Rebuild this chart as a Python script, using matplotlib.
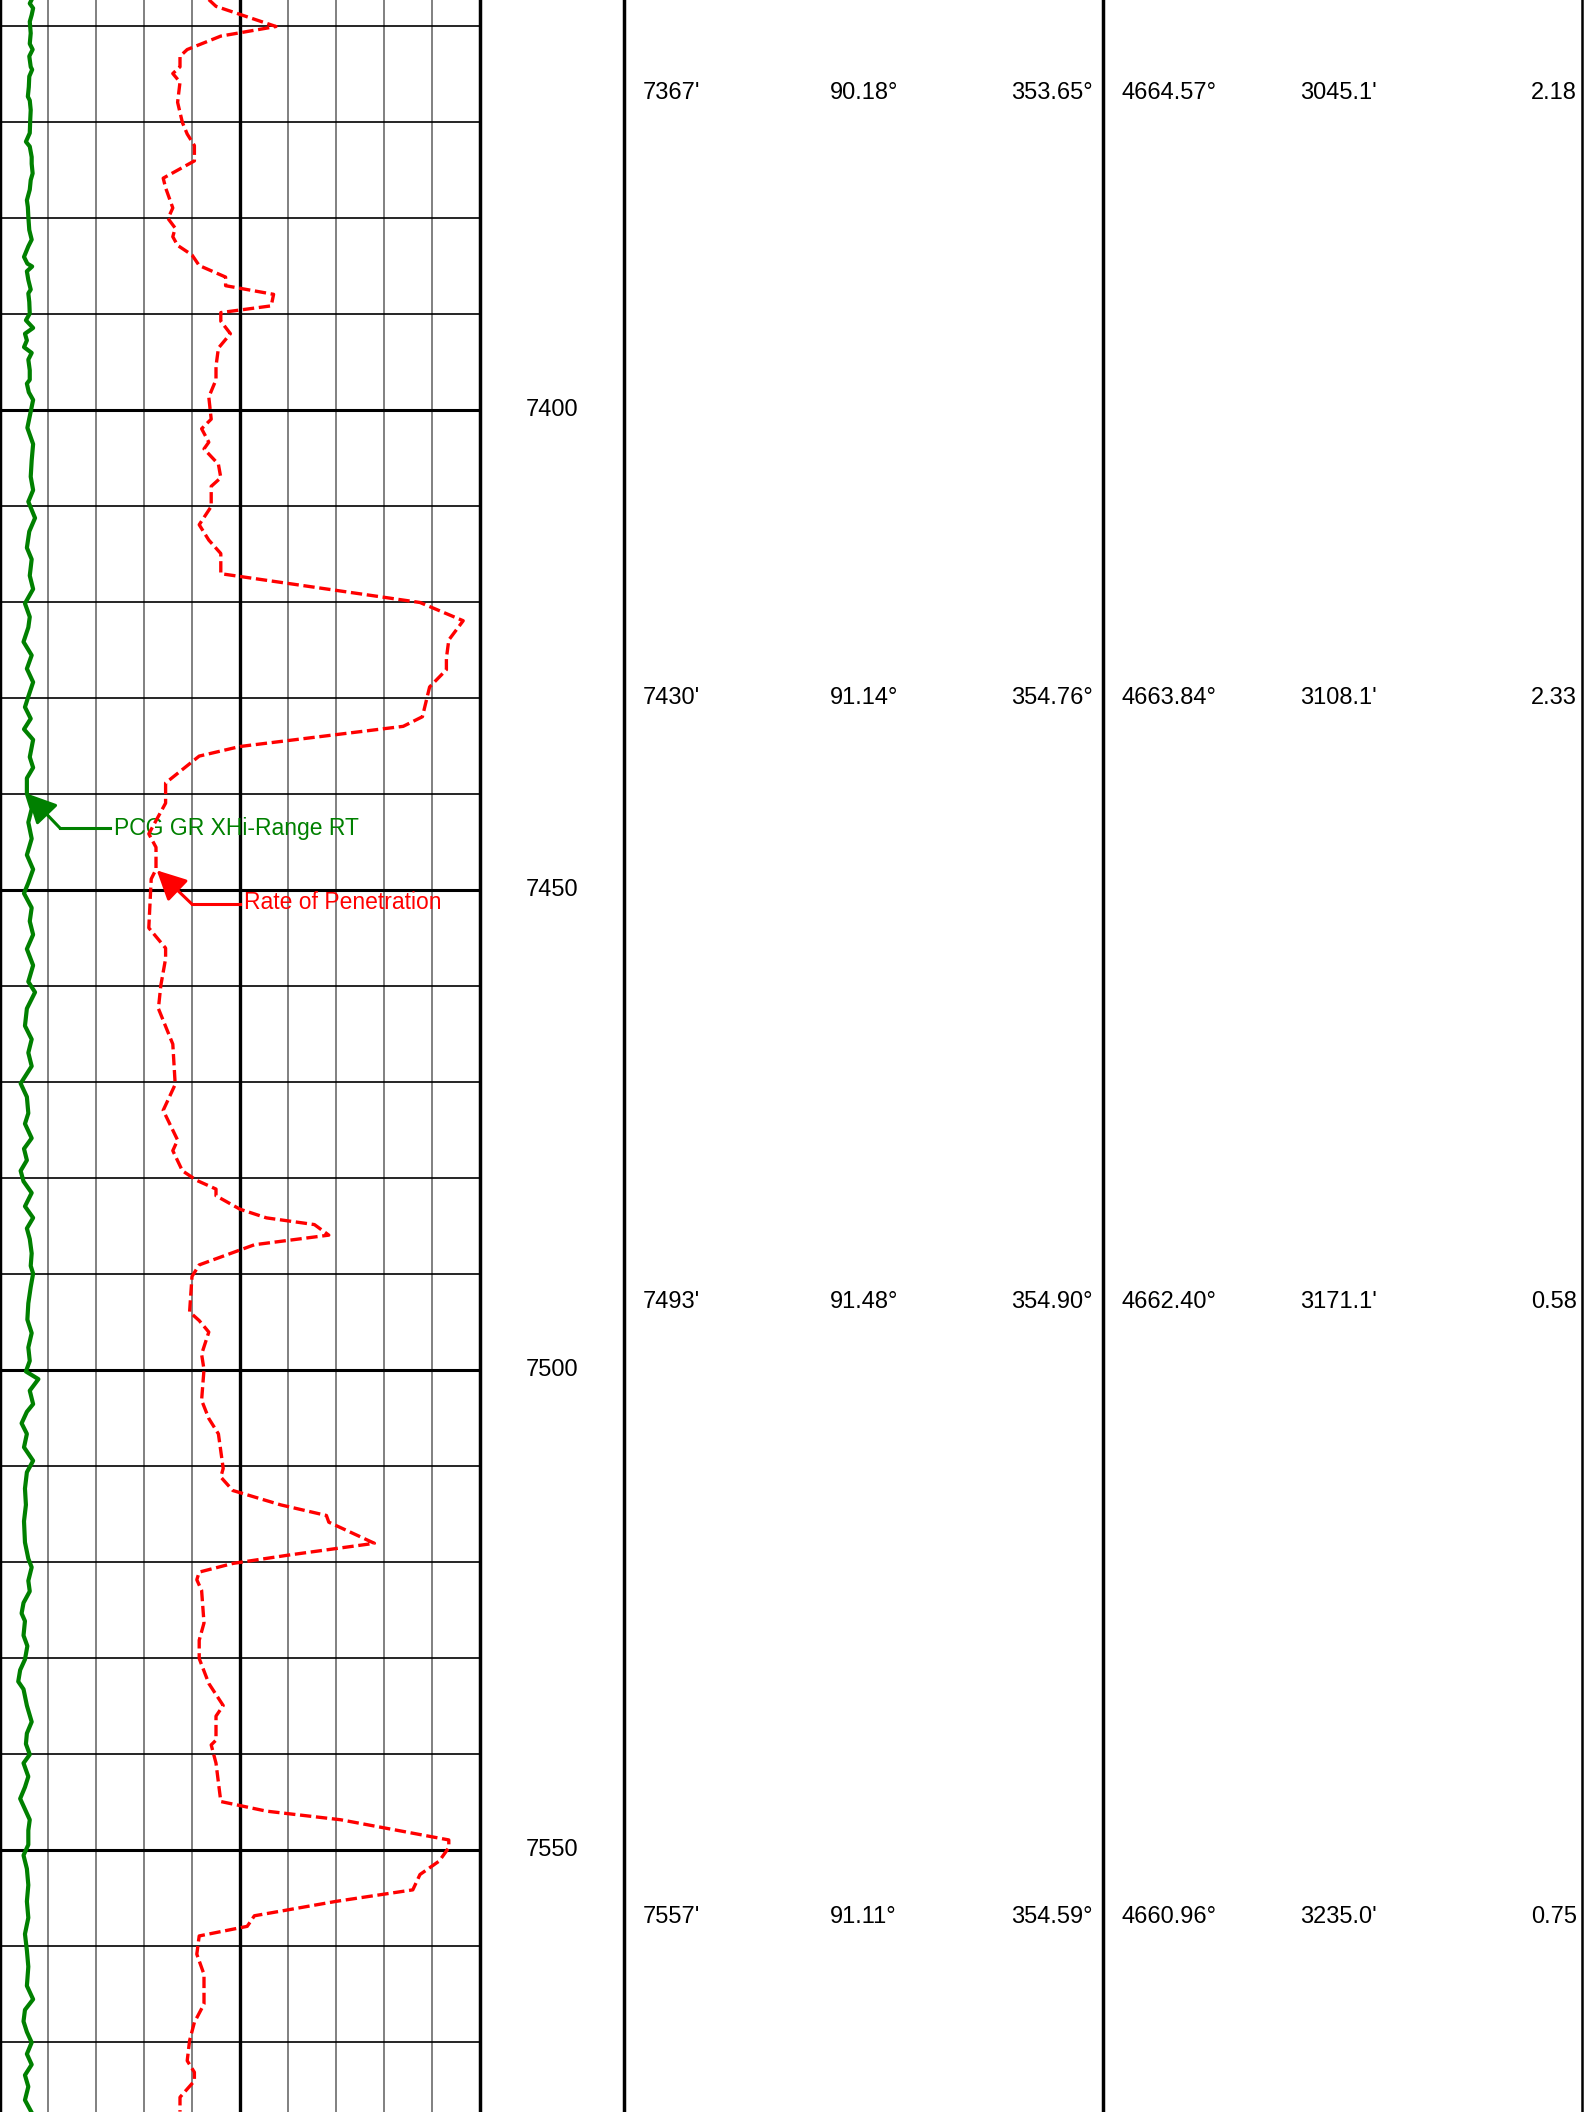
import numpy as np
import matplotlib
matplotlib.use("Agg")
import matplotlib.pyplot as plt

plt.rcParams['font.family'] = ['Liberation Sans', 'DejaVu Sans']

# depth window shown (ft)
top_depth = 7357.34
bottom_depth = 7577.34

# Gamma ray (scale 0-1000)
gr_depth = [7357.3, 7357.7, 7358.2, 7358.9, 7359.6, 7360.8, 7361.9, 7362.5, 7363.2, 7364.3,
            7364.6, 7365.3, 7366.4, 7367.4, 7367.8, 7368.8, 7369.8, 7371.2, 7372.1, 7372.6,
            7373.7, 7374.4, 7375.4, 7376.1, 7377.1, 7378.2, 7378.9, 7379.9, 7381.3, 7382.3,
            7383.0, 7384.1, 7384.8, 7385.1, 7385.6, 7386.5, 7387.5, 7387.9, 7388.8, 7390.0,
            7390.7, 7391.5, 7392.1, 7392.8, 7393.5, 7394.1, 7394.8, 7395.9, 7396.9, 7397.3,
            7398.2, 7399.0, 7400.2, 7401.9, 7403.6, 7405.3, 7407.0, 7408.4, 7409.6, 7411.3,
            7412.7, 7414.4, 7415.6, 7417.3, 7418.7, 7420.2, 7421.6, 7422.7, 7424.2, 7425.6,
            7427.0, 7428.4, 7429.9, 7431.0, 7432.2, 7433.3, 7434.4, 7436.2, 7437.3, 7438.4,
            7440.0, 7441.6, 7443.0, 7444.7, 7446.4, 7447.9, 7449.3, 7450.4, 7451.9, 7453.3,
            7454.7, 7456.2, 7457.9, 7459.6, 7460.7, 7462.4, 7464.2, 7465.6, 7467.0, 7468.4,
            7470.2, 7471.6, 7473.3, 7474.4, 7475.9, 7477.0, 7478.2, 7479.3, 7480.4, 7481.6,
            7483.0, 7484.2, 7485.3, 7486.4, 7487.9, 7489.2, 7490.0, 7491.4, 7493.1, 7494.8,
            7496.2, 7497.7, 7499.1, 7500.2, 7501.0, 7502.2, 7503.6, 7504.4, 7505.6, 7506.7,
            7508.1, 7509.5, 7510.7, 7512.4, 7514.1, 7515.8, 7518.0, 7519.7, 7520.6, 7522.0,
            7523.1, 7524.3, 7525.4, 7526.2, 7527.7, 7528.8, 7530.2, 7531.3, 7532.5, 7533.3,
            7535.0, 7536.7, 7537.9, 7539.0, 7540.1, 7541.0, 7542.4, 7543.5, 7544.7, 7545.8,
            7546.9, 7548.0, 7549.5, 7550.6, 7552.0, 7553.7, 7555.4, 7557.1, 7558.8, 7560.5,
            7562.2, 7564.2, 7565.6, 7566.7, 7567.9, 7569.0, 7570.1, 7571.3, 7572.4, 7573.5,
            7574.7, 7576.1, 7577.4]
gr_value = [66, 62, 69, 66, 62, 64, 62, 68, 61, 64,
            67, 61, 60, 58, 62, 64, 63, 62, 54, 62,
            66, 66, 68, 64, 62, 56, 58, 59, 61, 66,
            59, 50, 57, 67, 56, 59, 64, 59, 61, 62,
            54, 69, 52, 56, 50, 66, 59, 62, 62, 56,
            60, 69, 64, 57, 69, 66, 64, 69, 59, 73,
            61, 56, 66, 62, 69, 52, 62, 59, 49, 66,
            56, 69, 59, 52, 64, 50, 69, 62, 69, 56,
            56, 66, 59, 66, 56, 69, 59, 50, 66, 62,
            69, 56, 69, 59, 73, 56, 52, 66, 59, 66,
            43, 56, 59, 52, 66, 50, 56, 43, 49, 66,
            52, 69, 56, 62, 66, 64, 69, 64, 59, 57,
            66, 59, 62, 54, 80, 62, 69, 56, 45, 56,
            50, 69, 56, 52, 54, 50, 52, 59, 66, 59,
            62, 49, 45, 52, 49, 57, 52, 42, 38, 49,
            56, 66, 56, 54, 62, 49, 59, 52, 42, 52,
            62, 59, 59, 49, 56, 59, 56, 59, 52, 56,
            59, 56, 69, 52, 49, 56, 66, 56, 66, 52,
            59, 52, 66]

# Rate of penetration (scale 0-200)
rop_depth = [7357.3, 7358.0, 7360.1, 7361.1, 7362.5, 7363.2, 7364.3, 7365.0, 7365.9, 7368.0,
             7370.1, 7371.3, 7372.5, 7374.1, 7375.9, 7376.9, 7379.0, 7380.1, 7381.1, 7382.0,
             7382.9, 7383.9, 7385.0, 7386.2, 7387.1, 7388.0, 7389.2, 7389.9, 7390.8, 7392.1,
             7393.6, 7395.5, 7396.9, 7398.7, 7401.0, 7402.0, 7403.4, 7404.1, 7405.7, 7407.1,
             7408.0, 7410.1, 7412.0, 7413.6, 7415.0, 7417.1, 7420.1, 7422.0, 7424.0, 7425.9,
             7427.1, 7428.9, 7432.0, 7433.0, 7435.1, 7436.1, 7438.9, 7441.0, 7444.2, 7445.6,
             7447.9, 7448.9, 7454.0, 7456.1, 7457.2, 7460.0, 7462.4, 7466.1, 7470.3, 7473.0,
             7476.1, 7477.2, 7479.3, 7480.3, 7481.2, 7481.9, 7483.3, 7484.2, 7484.9, 7486.0,
             7487.0, 7489.1, 7490.3, 7494.0, 7494.9, 7496.1, 7498.4, 7500.0, 7503.2, 7505.1,
             7506.7, 7510.3, 7511.2, 7512.6, 7514.1, 7515.2, 7515.9, 7518.1, 7519.3, 7520.2,
             7521.1, 7521.9, 7523.0, 7526.4, 7528.2, 7530.1, 7532.7, 7535.0, 7536.1, 7538.6,
             7539.1, 7541.0, 7545.0, 7546.0, 7546.9, 7549.0, 7549.8, 7551.2, 7552.6, 7554.2,
             7555.4, 7556.9, 7558.0, 7559.0, 7560.9, 7563.0, 7566.1, 7568.0, 7569.9, 7572.0,
             7573.2, 7574.1, 7575.8, 7577.3]
rop_value = [87, 90, 115, 92, 78, 75, 75, 72, 75, 74,
             76, 78, 81, 81, 68, 69, 72, 70, 73, 72,
             74, 80, 83, 94, 94, 114, 113, 92, 92, 96,
             91, 90, 90, 87, 88, 84, 87, 85, 91, 92,
             88, 88, 83, 87, 92, 92, 175, 193, 187, 186,
             186, 179, 176, 168, 100, 83, 69, 69, 62, 65,
             65, 63, 62, 69, 69, 67, 66, 72, 73, 68,
             74, 72, 76, 82, 90, 90, 100, 111, 131, 137,
             106, 83, 80, 79, 83, 87, 84, 85, 84, 87,
             91, 93, 92, 97, 117, 136, 137, 156, 121, 97,
             83, 82, 84, 85, 83, 83, 87, 93, 90, 90,
             88, 90, 92, 111, 142, 187, 187, 183, 175, 172,
             140, 106, 103, 83, 82, 85, 85, 81, 79, 78,
             81, 81, 75, 75]

# depth labels in the depth track
depth_labels = [7400, 7450, 7500, 7550]

# survey stations
svy_md = [7367, 7430, 7493, 7557]
svy_inc = [90.18, 91.14, 91.48, 91.11]
svy_azi = [353.65, 354.76, 354.90, 354.59]
svy_tvd = [4664.57, 4663.84, 4662.40, 4660.96]
svy_vs = [3045.1, 3108.1, 3171.1, 3235.0]
svy_dls = [2.18, 2.33, 0.58, 0.75]

W, H = 1584, 2112
fig = plt.figure(figsize=(W / 100, H / 100), dpi=100)
fs = 17
fs_lbl = 16.5

# ---- log track ----
ax = fig.add_axes([0, 0, 480 / W, 1])
ax.patch.set_visible(False)
ax.set_xlim(0, 1000)
ax.set_ylim(bottom_depth, top_depth)
for k in range(1, 10):
    if k == 5:
        ax.axvline(k * 100, color='black', lw=2.4, zorder=1)
    else:
        ax.axvline(k * 100, color='#808080', lw=1.4, zorder=1)
for d in np.arange(7360, 7580, 10):
    ax.axhline(d, color='black', lw=2.2 if d % 50 == 0 else 1.2, zorder=1)
ax.set_xticks([])
ax.set_yticks([])
for s in ['top', 'bottom']:
    ax.spines[s].set_visible(False)
ax.spines['left'].set_linewidth(2.5)
ax.spines['right'].set_linewidth(2.5)

ax.plot(gr_value, gr_depth, color='#008000', lw=3.0, zorder=3)

ax_rop = ax.twiny()
ax_rop.patch.set_visible(False)
ax_rop.set_xlim(0, 200)
ax_rop.set_ylim(bottom_depth, top_depth)
ax_rop.set_xticks([])
for s in ax_rop.spines.values():
    s.set_visible(False)
ax_rop.plot(rop_value, rop_depth, color='#ff0000', lw=2.4, linestyle=(0, (3.4, 1.4)), zorder=3)

# curve name callouts
ax.annotate('', xy=(56, 7440.0), xytext=(125, 7443.6),
            arrowprops=dict(arrowstyle='-|>,head_length=0.6,head_width=0.3', color='#008000',
                            lw=2.2, mutation_scale=30, shrinkA=0, shrinkB=0), zorder=4)
ax.plot([125, 229], [7443.6, 7443.6], color='#008000', lw=2.2, zorder=4)
ax.text(238, 7443.6, 'PCG GR XHi-Range RT', color='#008000', fontsize=fs_lbl,
        ha='left', va='center', zorder=5)

ax_rop.annotate('', xy=(65.3, 7448.0), xytext=(79.9, 7451.5),
                arrowprops=dict(arrowstyle='-|>,head_length=0.6,head_width=0.3', color='#ff0000',
                                lw=2.2, mutation_scale=30, shrinkA=0, shrinkB=0), zorder=4)
ax_rop.plot([79.9, 100], [7451.5, 7451.5], color='#ff0000', lw=2.2, zorder=4)
ax_rop.text(101.5, 7451.4, 'Rate of Penetration', color='#ff0000', fontsize=fs_lbl,
            ha='left', va='center', zorder=5)

# ---- depth track ----
axd = fig.add_axes([480 / W, 0, 144 / W, 1])
axd.patch.set_visible(False)
axd.set_xlim(0, 1)
axd.set_ylim(bottom_depth, top_depth)
axd.set_xticks([])
axd.set_yticks([])
for s in ['top', 'bottom', 'left']:
    axd.spines[s].set_visible(False)
axd.spines['right'].set_linewidth(2.5)
for d in depth_labels:
    axd.text(0.5, d, str(d), fontsize=fs, ha='center', va='center')

# ---- survey track ----
axs = fig.add_axes([624 / W, 0, 960 / W, 1])
axs.patch.set_visible(False)
axs.set_xlim(624, 1584)
axs.set_ylim(bottom_depth, top_depth)
axs.set_xticks([])
axs.set_yticks([])
for s in axs.spines.values():
    s.set_visible(False)
axs.axvline(1103, color='black', lw=2.5)
axs.axvline(1582, color='black', lw=1.8)
for i in range(len(svy_md)):
    y = svy_md[i]
    axs.text(643, y, f"{svy_md[i]}'", fontsize=fs, ha='left', va='center')
    axs.text(830, y, f"{svy_inc[i]:.2f}°", fontsize=fs, ha='left', va='center')
    axs.text(1093, y, f"{svy_azi[i]:.2f}°", fontsize=fs, ha='right', va='center')
    axs.text(1121, y, f"{svy_tvd[i]:.2f}°", fontsize=fs, ha='left', va='center')
    axs.text(1300, y, f"{svy_vs[i]:.1f}'", fontsize=fs, ha='left', va='center')
    axs.text(1577, y, f"{svy_dls[i]:.2f}", fontsize=fs, ha='right', va='center')

fig.savefig('out.png', dpi=100)
